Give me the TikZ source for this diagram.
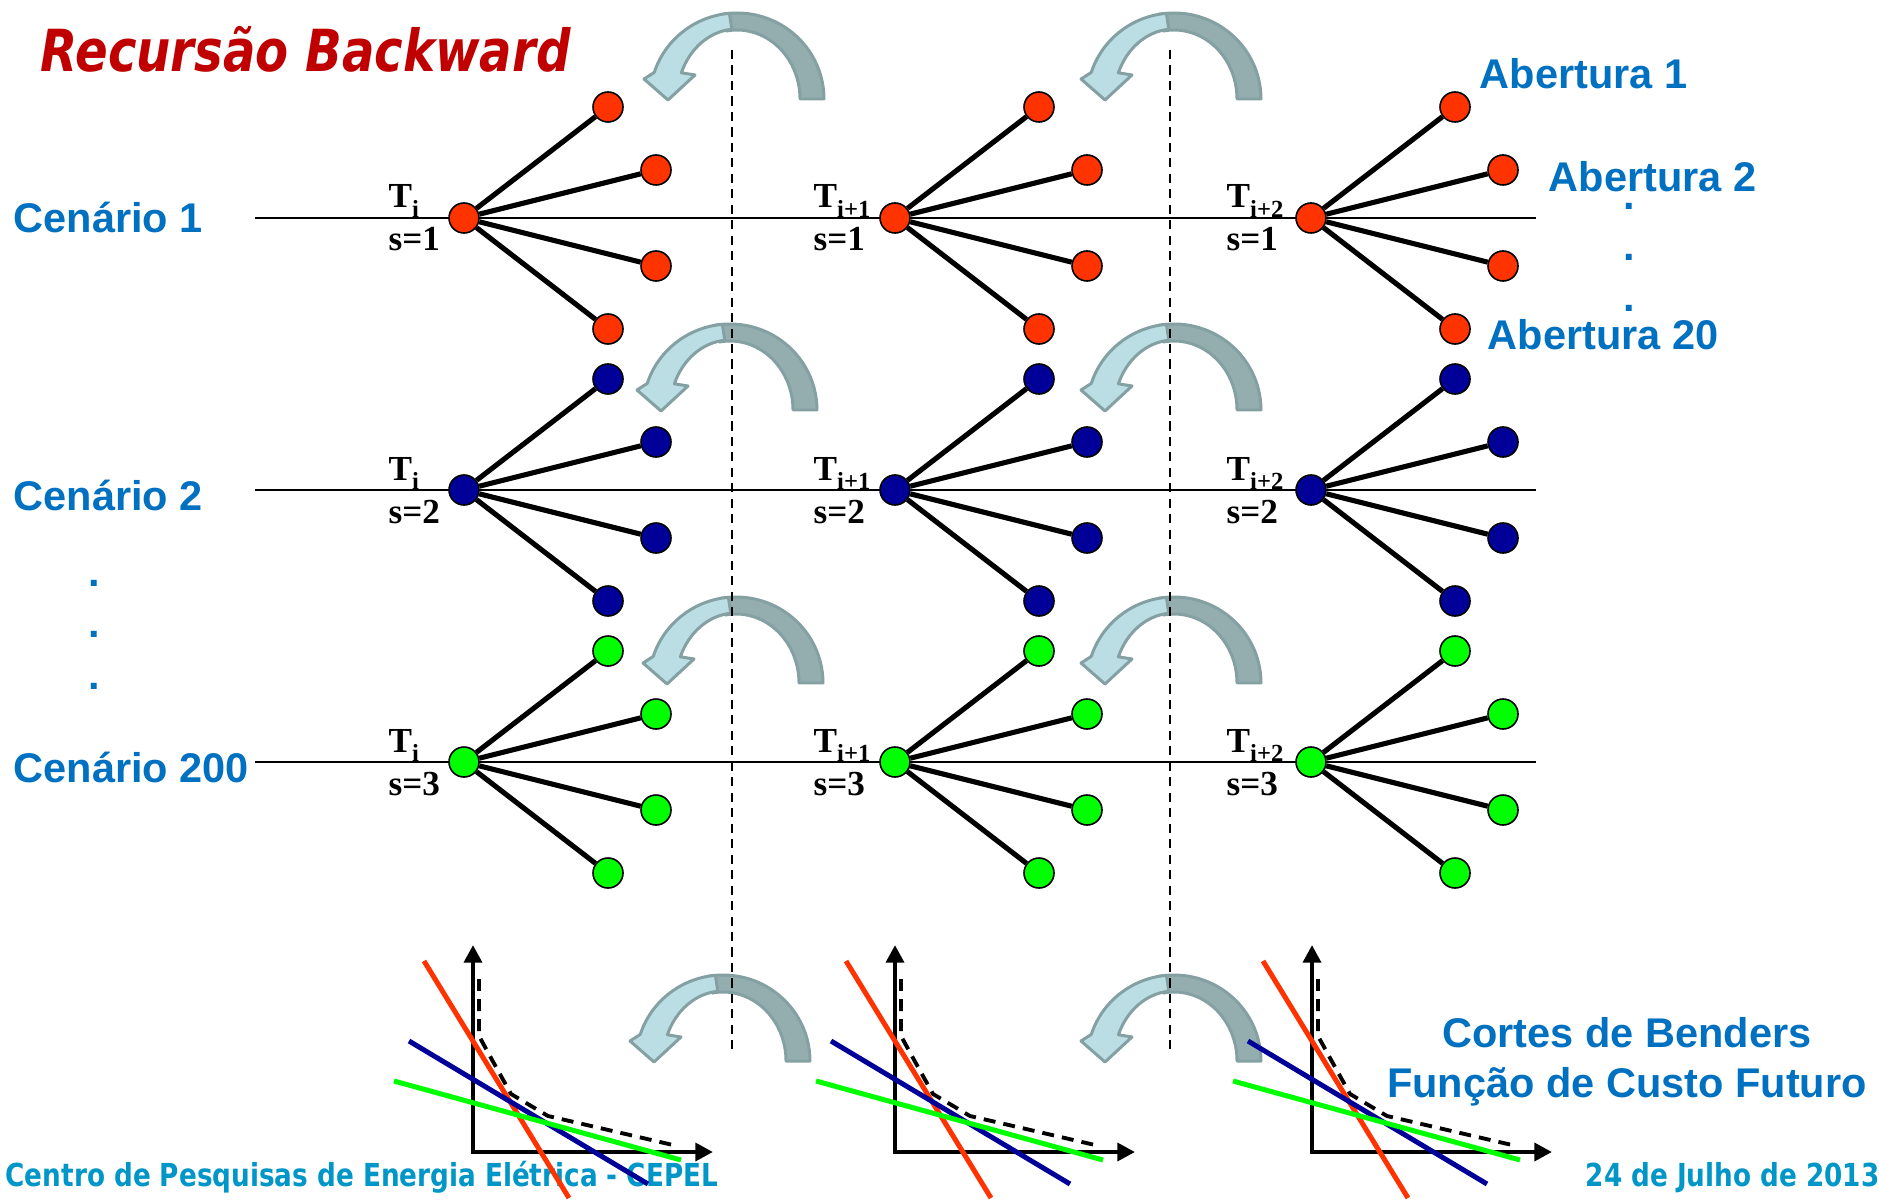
\documentclass[tikz,border=0pt]{standalone}
\usepackage{fontspec}
\setmainfont{Liberation Serif}
\newfontfamily\arialfont{Liberation Sans}
\newfontfamily\tahomafont{DejaVu Sans}[FakeStretch=0.83,
  ItalicFont={DejaVu Sans Oblique}, BoldFont={DejaVu Sans Bold},
  BoldItalicFont={DejaVu Sans Bold Oblique}]
\usetikzlibrary{arrows.meta}

\definecolor{cepelblue}{HTML}{0070C0}
\definecolor{footblue}{HTML}{0096C8}
\definecolor{titlered}{HTML}{C00000}
\definecolor{leafred}{HTML}{FF3300}
\definecolor{leafblue}{HTML}{000099}
\definecolor{leafgreen}{HTML}{00FF00}
\definecolor{arrowlight}{RGB}{186,222,228}
\definecolor{arrowdark}{RGB}{148,174,176}
\definecolor{arrowedge}{RGB}{132,160,163}

% small lowered index for the stage labels
\newcommand{\tsub}[1]{\raisebox{-2.8pt}{\fontsize{7}{7}\selectfont #1}}

\begin{document}
\begin{tikzpicture}[x=0.01cm, y=0.01cm,
  stage/.style={circle, draw=black, line width=0.45pt, minimum size=0.3cm, inner sep=0pt},
  branch/.style={line width=1.45pt},
  timeline/.style={line width=0.6pt},
  sepline/.style={line width=0.45pt, dash pattern=on 2.6pt off 1.8pt},
  lbl/.style={font=\arialfont\bfseries\fontsize{11.8}{12}\selectfont, text=cepelblue, inner sep=0pt},
  stlbl/.style={font=\bfseries\fontsize{10}{10}\selectfont, inner sep=0pt},
  titletext/.style={font=\tahomafont\bfseries\itshape\fontsize{16.5}{17}\selectfont, text=titlered, inner sep=0pt},
  foot/.style={font=\tahomafont\bfseries\fontsize{9}{10}\selectfont, text=footblue, inner sep=0pt},
  turn/.style={draw=arrowedge, line width=0.85pt, line join=round},
  axis/.style={line width=1.4pt, {Triangle[length=5pt,width=5pt]}-{Triangle[length=5pt,width=5pt]}},
  cut/.style={line width=1.42pt},
  envelope/.style={line width=1.1pt, dash pattern=on 3.4pt off 2.3pt, line join=round},
]
\fill[white] (0,0) rectangle (1879,1199);
\useasboundingbox (0,0) rectangle (1879,1199);

% titles
\node[titletext, anchor=base west] (title) at (40,1127) {Recursão Backward};
\node[foot, anchor=base west] (cepel) at (5,13) {Centro de Pesquisas de Energia Elétrica - CEPEL};
\node[foot, anchor=base west] (date) at (1585,13) {24 de Julho de 2013};

% scenarios on the left
\node[lbl, anchor=base west] (cen1) at (13,966) {Cenário 1};
\node[lbl, anchor=base west] (cen2) at (13,689) {Cenário 2};
\node[lbl, anchor=base west] (cen200) at (13,417) {Cenário 200};
\node[lbl] (vdot1) at (94,616) {.};
\node[lbl] (vdot2) at (94,565) {.};
\node[lbl] (vdot3) at (94,513) {.};

% openings on the right
\node[lbl, anchor=base west] (ab1) at (1479,1110) {Abertura 1};
\node[lbl, anchor=base west] (ab2) at (1548,1007) {Abertura 2};
\node[lbl, anchor=base west] (ab20) at (1487,850) {Abertura 20};
\node[lbl] (rdot1) at (1629,993) {.};
\node[lbl] (rdot2) at (1629,942) {.};
\node[lbl] (rdot3) at (1629,891) {.};

\node[lbl, anchor=base] (cortes) at (1627,152) {Cortes de Benders};
\node[lbl, anchor=base] (fcf) at (1627,102) {Função de Custo Futuro};

% backward turn arrows
\foreach \ax/\ay in {737/1100, 1174/1100, 730/789, 1174/789,
                     736/516, 1174/516, 723/138, 1174/138} {
  \begin{scope}[shift={(\ax,\ay)}]
    \filldraw[turn, fill=arrowdark] (87,0)
      arc[start angle=0, end angle=100, x radius=87, y radius=86]
      -- ({63*cos(100)},{69*sin(100)})
      arc[start angle=100, end angle=0, x radius=63, y radius=69] -- cycle;
    \filldraw[turn, fill=arrowlight] ({87*cos(95)},{86*sin(95)})
      arc[start angle=95, end angle=162, x radius=87, y radius=86]
      -- (-93,20) -- (-69,-1) -- (-42,24)
      -- ({60*cos(158)},{70*sin(158)})
      arc[start angle=158, end angle=95, x radius=60, y radius=70] -- cycle;
  \end{scope}
}

% stage separators
\coordinate (sep1-top) at (732,1149);
\coordinate (sep1-bot) at (732,147);
\coordinate (sep2-top) at (1170,1149);
\coordinate (sep2-bot) at (1170,147);
\draw[sepline] (sep1-top) -- (sep1-bot);
\draw[sepline] (sep2-top) -- (sep2-bot);

% scenario trees
\foreach \r/\y/\c in {1/981/leafred, 2/709/leafblue, 3/437/leafgreen} {
  \coordinate (line\r-w) at (255,\y);
  \coordinate (line\r-e) at (1536,\y);
  \draw[timeline] (line\r-w) -- (line\r-e);
  \foreach \k/\x/\dx/\ti in {1/464/76/i, 2/895/82/i+1, 3/1311/85/i+2} {
    \node[stage, fill=\c] (h\r\k) at (\x,\y) {};
    \node[stage, fill=\c] (h\r\k-1) at (\x+144,\y+111) {};
    \node[stage, fill=\c] (h\r\k-2) at (\x+192,\y+48) {};
    \node[stage, fill=\c] (h\r\k-3) at (\x+192,\y-48) {};
    \node[stage, fill=\c] (h\r\k-4) at (\x+144,\y-111) {};
    \foreach \l in {1,...,4}
      \draw[branch] (h\r\k) -- (h\r\k-\l);
    \node[stlbl, anchor=base west] (t\r\k) at (\x-\dx,\y+10) {T\tsub{\ti}};
    \node[stlbl, anchor=base west] (s\r\k) at (\x-\dx,\y-33) {s=\r};
  }
}

% future cost function sketches
\foreach \k/\ox in {1/473, 2/895, 3/1312} {
  \coordinate (o\k) at (\ox,47);
  \coordinate (yt\k) at (\ox,254);
  \coordinate (xt\k) at (\ox+240,47);
  \draw[axis] (yt\k) -- (o\k) -- (xt\k);
  \draw[cut, leafred] (\ox-49,238) -- (\ox+96,1);
  \draw[cut, leafblue] (\ox-64,158) -- (\ox+175,15);
  \draw[cut, leafgreen] (\ox-79,118) -- (\ox+208,39);
  \draw[envelope] (\ox+6,220) -- (\ox+6,163) -- (\ox+18,141) -- (\ox+38,105)
    -- (\ox+75,83) -- (\ox+200,54);
}
\end{tikzpicture}
\end{document}
